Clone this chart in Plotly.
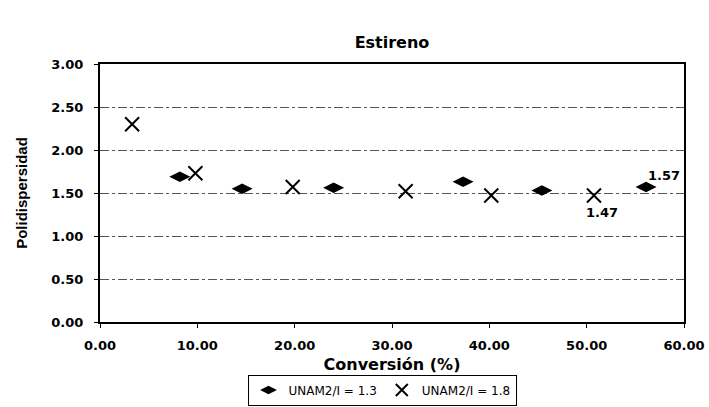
import plotly.graph_objects as go

# Conversion (%) and polydispersity for each initiator ratio
conv_13 = [8.2, 14.6, 24.0, 37.3, 45.4, 56.1]
pdi_13 = [1.69, 1.55, 1.56, 1.63, 1.53, 1.57]
conv_18 = [3.3, 9.8, 19.8, 31.4, 40.2, 50.75]
pdi_18 = [2.30, 1.73, 1.57, 1.52, 1.47, 1.47]

name_13 = "UNAM2/I = 1.3"
name_18 = "UNAM2/I = 1.8"

x_ticks = [0, 10, 20, 30, 40, 50, 60]
y_ticks = [0, 0.5, 1.0, 1.5, 2.0, 2.5, 3.0]

WIDE = "DejaVu Sans, Verdana, sans-serif"
NARROW = "Liberation Sans Narrow, Arial Narrow, sans-serif"

W, H = 709, 407

fig = go.Figure()
fig.add_trace(go.Scatter(
    x=conv_13, y=pdi_13, mode="markers", name=name_13,
    marker=dict(symbol="diamond-wide", size=15, color="black"),
))
fig.add_trace(go.Scatter(
    x=conv_18, y=pdi_18, mode="markers", name=name_18,
    marker=dict(symbol="x-thin", size=14, color="black",
                line=dict(width=2, color="black")),
))

# value labels on the last point of each series
fig.add_annotation(x=conv_13[-1], y=pdi_13[-1], text=f"{pdi_13[-1]:.2f}",
                   showarrow=False, xshift=18, yshift=11,
                   font=dict(family=WIDE, size=13, color="black", weight="bold"))
fig.add_annotation(x=conv_18[-1], y=pdi_18[-1], text=f"{pdi_18[-1]:.2f}",
                   showarrow=False, xshift=8, yshift=-17,
                   font=dict(family=WIDE, size=13, color="black", weight="bold"))

fig.update_layout(
    width=W, height=H,
    margin=dict(l=100, r=25, t=64, b=85, autoexpand=False),
    paper_bgcolor="white", plot_bgcolor="white",
    font=dict(family=WIDE, color="black"),
    title=dict(text="Estireno", x=0.5, xref="paper", xanchor="center",
               y=1 - 42 / H, yanchor="middle",
               font=dict(family=WIDE, size=16, color="black", weight="bold")),
    showlegend=True,
    legend=dict(orientation="h", xref="container", x=382 / W, xanchor="center",
                yref="container", y=1.5 / H, yanchor="bottom",
                bordercolor="black", borderwidth=1, bgcolor="white",
                font=dict(family=WIDE, size=12, color="black"),
                itemsizing="constant", tracegroupgap=0, itemwidth=30),
)

fig.update_xaxes(
    range=[0, 60], tickvals=x_ticks, ticktext=[f"{v:.2f}" for v in x_ticks],
    showgrid=False, zeroline=False, showline=True, linecolor="black", linewidth=2,
    mirror=True, ticks="outside", ticklen=4, tickcolor="black",
    ticklabelstandoff=6,
    tickfont=dict(family=WIDE, size=13, color="black", weight="bold"),
    title=dict(text="Conversión (%)", standoff=7,
               font=dict(family=WIDE, size=16, color="black", weight="bold")),
)
fig.update_yaxes(
    range=[0, 3], tickvals=y_ticks, ticktext=[f"{v:.2f}" for v in y_ticks],
    showgrid=True, gridcolor="#555555", griddash="dashdot", gridwidth=1,
    zeroline=False, showline=True, linecolor="black", linewidth=2,
    mirror=True, ticks="outside", ticklen=4, tickcolor="black",
    ticklabelstandoff=8,
    tickfont=dict(family=WIDE, size=13, color="black", weight="bold"),
    title=dict(text="Polidispersidad", standoff=20,
               font=dict(family=NARROW, size=15, color="black", weight="bold")),
)

fig.write_html("out.html")
